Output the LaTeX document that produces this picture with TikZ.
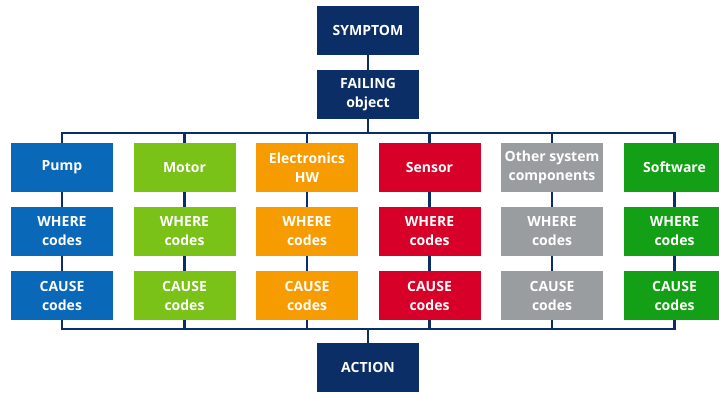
\documentclass[tikz,border=0pt]{standalone}
\usepackage{fontspec}
\setmainfont{Open Sans}
\usepackage{xcolor}

\definecolor{navy}{RGB}{12,46,103}
\definecolor{pumpblue}{RGB}{10,104,184}
\definecolor{motorgreen}{RGB}{122,193,24}
\definecolor{elecorange}{RGB}{247,156,0}
\definecolor{sensorred}{RGB}{214,0,40}
\definecolor{othergrey}{RGB}{154,157,160}
\definecolor{swgreen}{RGB}{20,160,22}

\tikzset{
  box/.style={minimum width=102pt, minimum height=49pt, inner sep=1pt, align=center,
    text=white, font=\bfseries\fontsize{14}{19}\selectfont},
  link/.style={draw=navy, line width=2.6pt}
}

\begin{document}
\begin{tikzpicture}[x=1pt, y=-1pt]
      \clip (0,0) rectangle (719,393);
      \coordinate (topbus) at (368,133);
      \coordinate (botbus) at (368,329);
      \node[box, fill=navy] (symptom) at (368,30.5) {SYMPTOM};
      \node[box, fill=navy] (failing) at (368,94.5) {FAILING\\object};
      \node[box, fill=navy] (action) at (368,367.5) {ACTION};
      \draw[link] (symptom) -- (failing);
      \draw[link] (failing) -- (topbus);
      \draw[link] (botbus) -- (action);
      \foreach \name/\x/\col/\txt in {pump/62/pumpblue/Pump, motor/184.5/motorgreen/Motor,
          elec/307/elecorange/{Electronics\\HW}, sensor/429.5/sensorred/Sensor,
          other/552/othergrey/{Other system\\components}, soft/674.5/swgreen/Software} {
        \node[box, fill=\col] (\name) at (\x,167.5) {\txt};
        \node[box, fill=\col] (\name-where) at (\x,231.5) {WHERE\\codes};
        \node[box, fill=\col] (\name-cause) at (\x,295.5) {CAUSE\\codes};
        \draw[link] (\name) -- (\name-where);
        \draw[link] (\name-where) -- (\name-cause);
        \draw[link] (\name.north) -- (\name.north |- topbus);
        \draw[link] (\name-cause.south) -- (\name-cause.south |- botbus);
      }
      \draw[link, line cap=rect] (pump.north |- topbus) -- (soft.north |- topbus);
      \draw[link, line cap=rect] (pump-cause.south |- botbus) -- (soft-cause.south |- botbus);
\end{tikzpicture}
\end{document}
